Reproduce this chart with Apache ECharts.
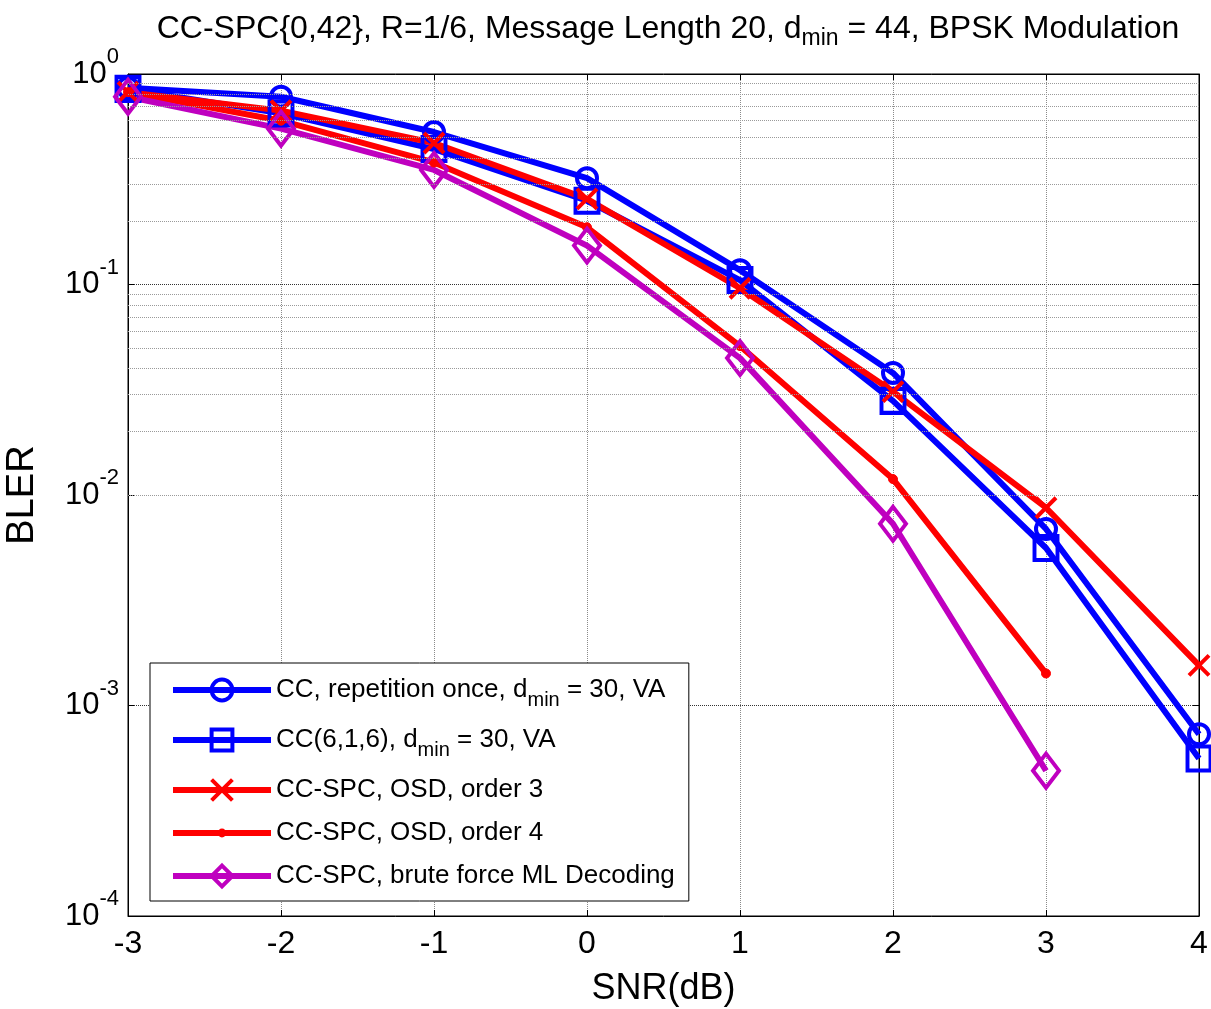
<!DOCTYPE html>
<html>
<head>
<meta charset="utf-8">
<script src="https://cdn.jsdelivr.net/npm/echarts@6/dist/echarts.min.js"></script>
<style>
  html, body { margin: 0; padding: 0; background: #fff; }
  #chart { width: 1211px; height: 1009px; }
</style>
</head>
<body>
<div id="chart"></div>
<script>
const snr = [-3, -2, -1, 0, 1, 2, 3, 4];
const ccRepetition = [0.86, 0.78, 0.53, 0.32, 0.117, 0.038, 0.0069, 0.00073];
const cc616 = [0.85, 0.65, 0.44, 0.25, 0.105, 0.028, 0.0056, 0.00056];
const osdOrder3 = [0.82, 0.67, 0.47, 0.255, 0.096, 0.031, 0.0087, 0.00155];
const osdOrder4 = [0.82, 0.6, 0.38, 0.187, 0.051, 0.0119, 0.00142];
const bruteForceML = [0.78, 0.55, 0.35, 0.153, 0.0447, 0.0073, 0.00049];

const decades = [1e-4, 1e-3, 1e-2, 1e-1];
const minorSteps = [2, 3, 4, 5, 6, 7, 8, 9];

const font = "Liberation Sans";
const blue = "#0000ff";
const red = "#ff0000";
const magenta = "#bf00bf";

const minorLines = [];
decades.forEach((d) => minorSteps.forEach((m) => minorLines.push({ yAxis: d * m })));

const pairs = (ys) => ys.map((y, i) => [snr[i], y]);

function lineSeries(name, data, color, symbol, size, hollow) {
  return {
    name,
    type: "line",
    data: pairs(data),
    symbol,
    symbolSize: size,
    showAllSymbol: true,
    z: 3,
    lineStyle: { color, width: 6 },
    itemStyle: hollow
      ? { color: "rgba(0,0,0,0)", borderColor: color, borderWidth: 4 }
      : { color, borderColor: color, borderWidth: 1 },
    emphasis: { disabled: true },
  };
}

const names = [
  "CC, repetition once, dmin = 30, VA",
  "CC(6,1,6), dmin = 30, VA",
  "CC-SPC, OSD, order 3",
  "CC-SPC, OSD, order 4",
  "CC-SPC, brute force ML Decoding",
];

const plainAxis = {
  axisLabel: { show: false },
  splitLine: { show: false },
  axisLine: { show: true, onZero: false, lineStyle: { color: "#000" } },
  axisTick: { show: true, inside: true, length: 6, lineStyle: { color: "#000" } },
};

const chart = echarts.init(document.getElementById("chart"), null, { renderer: "canvas" });

chart.setOption({
  backgroundColor: "#fff",
  animation: false,
  textStyle: { fontFamily: font },
  title: {
    text: "CC-SPC{0,42}, R=1/6, Message Length 20, d{sub|min} = 44, BPSK Modulation",
    left: 663,
    textAlign: "center",
    top: 4,
    textStyle: {
      fontFamily: font,
      fontSize: 32,
      fontWeight: "normal",
      color: "#000",
      rich: {
        sub: { fontFamily: font, fontSize: 23, color: "#000", padding: [18, 0, 0, 0], verticalAlign: "bottom" },
      },
    },
  },
  grid: {
    left: 128,
    right: 12,
    top: 74,
    bottom: 93,
    outerBoundsMode: "none",
    show: true,
    borderColor: "#000",
    borderWidth: 1,
    backgroundColor: "#fff",
  },
  legend: {
    orient: "vertical",
    left: 150,
    top: 663,
    itemWidth: 98,
    itemHeight: 26,
    itemGap: 17,
    padding: [14, 14, 12, 20],
    backgroundColor: "#fff",
    borderColor: "#000",
    borderWidth: 1,
    lineStyle: { width: 6 },
    itemStyle: { borderWidth: 4 },
    data: [
      { name: names[0] },
      { name: names[1] },
      { name: names[2] },
      {
        name: names[3],
        icon: "path://M0,7H100V13H0Z M50,5.5A4.5,4.5 0 1 1 49.99,5.5Z",
        itemStyle: { color: red, borderWidth: 0 },
      },
      { name: names[4] },
    ],
    formatter: (name) => name.replace("dmin", "d{sub|min}"),
    textStyle: {
      fontFamily: font,
      fontSize: 26,
      color: "#000",
      rich: {
        sub: { fontFamily: font, fontSize: 20, color: "#000", padding: [20, 0, 0, 0], verticalAlign: "bottom" },
      },
    },
  },
  xAxis: [
    {
      type: "value",
      min: -3,
      max: 4,
      interval: 1,
      name: "SNR(dB)",
      nameLocation: "middle",
      nameGap: 55,
      nameTextStyle: { fontFamily: font, fontSize: 36, color: "#000" },
      axisLine: { show: true, onZero: false, lineStyle: { color: "#000", width: 1 } },
      axisTick: { show: true, inside: true, length: 6, lineStyle: { color: "#000" } },
      axisLabel: { fontFamily: font, fontSize: 32, color: "#000", margin: 12 },
      splitLine: { show: true, lineStyle: { color: "#8a8a8a", type: "dotted", width: 1 } },
    },
    Object.assign({ type: "value", position: "top", min: -3, max: 4, interval: 1 }, plainAxis),
  ],
  yAxis: [
    {
      type: "log",
      logBase: 10,
      min: 1e-4,
      max: 1,
      name: "BLER",
      nameLocation: "middle",
      nameGap: 86,
      nameRotate: 90,
      nameTextStyle: { fontFamily: font, fontSize: 38, color: "#000" },
      axisLine: { show: true, onZero: false, lineStyle: { color: "#000", width: 1 } },
      axisTick: { show: true, inside: true, length: 6, lineStyle: { color: "#000" } },
      axisLabel: {
        margin: 9,
        formatter: (v) => "{b|10}{s|" + Math.round(Math.log10(v)) + "}",
        rich: {
          b: { fontFamily: font, fontSize: 31, color: "#000", lineHeight: 56, verticalAlign: "middle" },
          s: { fontFamily: font, fontSize: 22, color: "#000", lineHeight: 22, verticalAlign: "top" },
        },
      },
      splitLine: { show: true, lineStyle: { color: "#333", type: "dotted", width: 1 } },
    },
    Object.assign({ type: "log", logBase: 10, min: 1e-4, max: 1, position: "right" }, plainAxis),
  ],
  series: [
    {
      name: "grid-minor",
      type: "line",
      data: [],
      z: 1,
      silent: true,
      markLine: {
        silent: true,
        symbol: "none",
        label: { show: false },
        animation: false,
        lineStyle: { color: "#9a9a9a", type: "dotted", width: 1 },
        data: minorLines,
      },
    },
    lineSeries(names[0], ccRepetition, blue, "circle", 20, true),
    lineSeries(names[1], cc616, blue, "rect", [23, 24], true),
    lineSeries(names[2], osdOrder3, red, "path://M0,0L10,10M10,0L0,10", 20, true),
    lineSeries(names[3], osdOrder4, red, "circle", 9, false),
    lineSeries(names[4], bruteForceML, magenta, "diamond", [26, 34], true),
  ],
});
</script>
</body>
</html>
